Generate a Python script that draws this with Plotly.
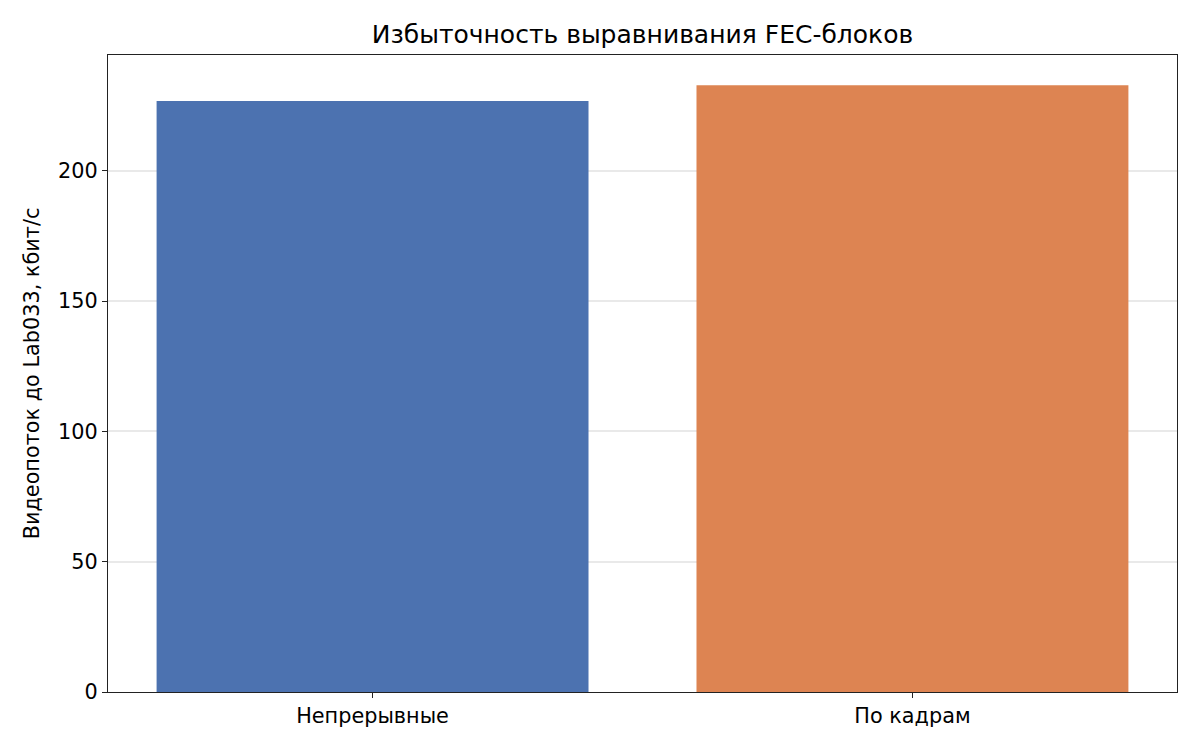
import plotly.graph_objects as go

categories = ["Непрерывные", "По кадрам"]
values = [226.8, 232.9]
colors = ["#4C72B0", "#DD8452"]

fig = go.Figure(
    go.Bar(x=categories, y=values, marker=dict(color=colors, line=dict(width=0)), width=0.8)
)

# the page body has an 8px margin, so the figure is 8px smaller and margins shifted
axis_font = dict(family="DejaVu Sans", size=20.8, color="black")
fig.update_layout(
    width=1192,
    height=742,
    margin=dict(l=100, r=23, t=47, b=58),
    paper_bgcolor="white",
    plot_bgcolor="white",
    showlegend=False,
    title=dict(
        text="Избыточность выравнивания FEC-блоков",
        x=0.5, xref="paper", xanchor="center", y=1 - 26 / 742, yanchor="middle",
        font=dict(family="DejaVu Sans", size=25, color="black"),
    ),
)
fig.update_xaxes(
    range=[-0.49, 1.49],
    showline=True, linecolor="#222", linewidth=1.3, mirror=True,
    ticks="outside", ticklen=5, tickcolor="#222",
    showgrid=False, tickfont=axis_font,
)
fig.update_yaxes(
    range=[0, 244.5],
    tickvals=[0, 50, 100, 150, 200],
    showline=True, linecolor="#222", linewidth=1.3, mirror=True,
    ticks="outside", ticklen=5, tickcolor="#222",
    showgrid=True, gridcolor="rgba(176,176,176,0.28)", gridwidth=1.6,
    zeroline=False, layer="above traces",
    tickfont=axis_font,
    title=dict(text="Видеопоток до Lab033, кбит/с", font=axis_font, standoff=12),
)

fig.write_html("out.html")
